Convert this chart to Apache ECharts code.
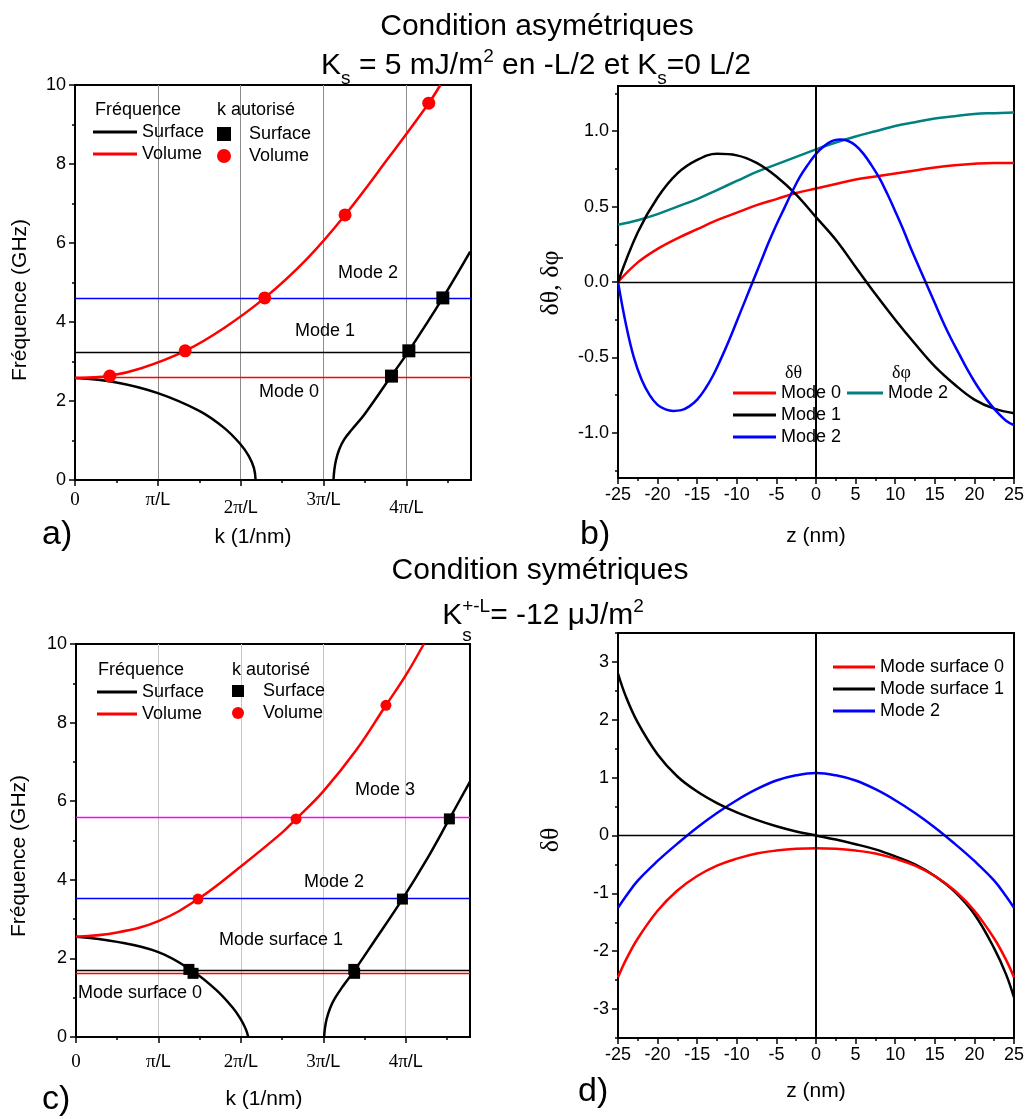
<!DOCTYPE html>
<html><head><meta charset="utf-8">
<script src="https://cdn.jsdelivr.net/npm/echarts@6/dist/echarts.min.js"></script>
<style>html,body{margin:0;padding:0;background:#fff}#c{width:1027px;height:1119px}</style>
</head><body><div id="c"></div>
<script>
// ---------------- DATA ----------------
const kTickLabels = ['0', 'π/L', '2π/L', '3π/L', '4π/L'];
const kTickValues = [0, 1, 2, 3, 4];
const kMinorValues = [0.5, 1.5, 2.5, 3.5, 4.5];

// Panel a (asymmetric) - k in units of pi/L, f in GHz
const aVolK = [0, 0.42, 0.8, 1.33, 1.8, 2.29, 2.8, 3.26, 3.8, 4.27, 4.41];
const aVolF = [2.58, 2.64, 2.83, 3.27, 3.85, 4.61, 5.6, 6.71, 8.2, 9.54, 10.0];
const aSurfLK = [0, 0.5, 1.0, 1.5, 1.8, 2.0, 2.1, 2.16, 2.18];
const aSurfLF = [2.58, 2.47, 2.2, 1.75, 1.32, 0.9, 0.6, 0.3, 0];
const aSurfRK = [3.12, 3.13, 3.15, 3.19, 3.25, 3.34, 3.5, 3.82, 4.03, 4.44, 4.77];
const aSurfRF = [0, 0.25, 0.5, 0.78, 1.03, 1.27, 1.68, 2.64, 3.27, 4.61, 5.78];
const aPtVolK = [0.42, 1.33, 2.29, 3.26, 4.27];
const aPtVolF = [2.63, 3.27, 4.61, 6.71, 9.54];
const aPtSurfK = [3.82, 4.03, 4.44];
const aPtSurfF = [2.63, 3.27, 4.61];
const aModeF = [2.61, 3.23, 4.59];
const aModeColors = ['#ff0000', '#000000', '#0000ff'];
const aModeNames = ['Mode 0', 'Mode 1', 'Mode 2'];

// Panel b (asymmetric profiles)
const bZ = [-25, -22.5, -20, -17.5, -15, -12.5, -10, -7.5, -5, -2.5, 0, 2.5, 5, 7.5, 10, 12.5, 15, 17.5, 20, 22.5, 25];
const bTheta0 = [0, 0.13, 0.22, 0.29, 0.35, 0.41, 0.46, 0.51, 0.55, 0.59, 0.62, 0.65, 0.68, 0.70, 0.72, 0.74, 0.76, 0.775, 0.785, 0.79, 0.79];
const bTheta1 = [0, 0.33, 0.56, 0.72, 0.81, 0.85, 0.84, 0.79, 0.70, 0.58, 0.43, 0.28, 0.10, -0.08, -0.25, -0.41, -0.56, -0.68, -0.78, -0.84, -0.87];
const bPhi2 = [0.38, 0.41, 0.45, 0.50, 0.55, 0.61, 0.67, 0.73, 0.78, 0.83, 0.88, 0.925, 0.965, 1.00, 1.035, 1.06, 1.085, 1.10, 1.115, 1.12, 1.125];
const bZ2 = [-25, -24, -23, -22, -21, -20, -19, -18, -17, -16, -15, -14, -13, -12, -11, -10, -9, -8, -7, -6, -5, -4, -3, -2, -1, 0, 1, 2, 3, 4, 5, 6, 7, 8, 9, 10, 11, 12, 13, 14, 15, 16, 17, 18, 19, 20, 21, 22, 23, 24, 25];
const bTheta2 = [0, -0.28, -0.5, -0.65, -0.75, -0.815, -0.845, -0.855, -0.85, -0.825, -0.78, -0.71, -0.62, -0.51, -0.39, -0.26, -0.13, 0.0, 0.13, 0.26, 0.38, 0.49, 0.6, 0.7, 0.78, 0.85, 0.9, 0.935, 0.945, 0.937, 0.905, 0.85, 0.775, 0.69, 0.585, 0.47, 0.35, 0.22, 0.1, -0.02, -0.14, -0.26, -0.37, -0.47, -0.57, -0.66, -0.74, -0.81, -0.87, -0.92, -0.95];
const bYLabels = [-1, -0.5, 0, 0.5, 1];
const bYMinor = [-1.25, -0.75, -0.25, 0.25, 0.75, 1.25];

// Panel c (symmetric)
const cVolK = [0, 0.5, 1, 1.48, 2, 2.5, 2.67, 3, 3.4, 3.76, 4.0, 4.22];
const cVolF = [2.55, 2.66, 2.95, 3.51, 4.34, 5.2, 5.55, 6.25, 7.3, 8.44, 9.2, 10.0];
const cSurfLK = [0, 0.5, 1.0, 1.4, 1.7, 1.9, 2.0, 2.06, 2.09];
const cSurfLF = [2.55, 2.42, 2.16, 1.7, 1.2, 0.75, 0.45, 0.2, 0];
const cSurfRK = [3.01, 3.02, 3.04, 3.08, 3.14, 3.24, 3.37, 3.6, 3.96, 4.25, 4.53, 4.78];
const cSurfRF = [0, 0.22, 0.45, 0.72, 0.98, 1.3, 1.67, 2.38, 3.51, 4.5, 5.55, 6.5];
const cPtVolK = [1.48, 2.67, 3.76];
const cPtVolF = [3.51, 5.55, 8.44];
const cPtSurfK = [1.37, 1.42, 3.37, 3.38, 3.96, 4.53];
const cPtSurfF = [1.72, 1.62, 1.72, 1.62, 3.51, 5.55];
const cModeF = [1.62, 1.71, 3.52, 5.58];
const cModeColors = ['#ff0000', '#000000', '#0000ff', '#ff00ff'];

// Panel d (symmetric profiles)
const dZ = [-25, -24, -22.5, -20, -17.5, -15, -12.5, -10, -7.5, -5, -2.5, 0, 2.5, 5, 7.5, 10, 12.5, 15, 17.5, 20, 22.5, 24, 25];
const dSurf0 = [-2.45, -2.15, -1.78, -1.3, -0.95, -0.7, -0.52, -0.4, -0.31, -0.26, -0.23, -0.22, -0.23, -0.26, -0.31, -0.4, -0.52, -0.7, -0.95, -1.3, -1.78, -2.15, -2.45];
const dSurf1 = [2.8, 2.4, 1.95, 1.4, 1.02, 0.76, 0.56, 0.4, 0.27, 0.16, 0.07, 0, -0.07, -0.15, -0.24, -0.36, -0.5, -0.7, -0.97, -1.36, -1.95, -2.4, -2.8];
const dMode2 = [-1.25, -1.05, -0.78, -0.44, -0.14, 0.14, 0.39, 0.61, 0.8, 0.95, 1.04, 1.08, 1.04, 0.95, 0.8, 0.61, 0.39, 0.14, -0.14, -0.44, -0.78, -1.05, -1.25];
const dYLabels = [-3, -2, -1, 0, 1, 2, 3];
const dYMinor = [-3.5, -2.5, -1.5, -0.5, 0.5, 1.5, 2.5, 3.5];

// ---------------- STYLE HELPERS ----------------
const SANS = 'Liberation Sans';
const SERIF = 'Liberation Serif';
const BLACK = '#000000';

const chart = echarts.init(document.getElementById('c'), null, {renderer: 'canvas', width: 1027, height: 1119});

function pairs(xs, ys) { return xs.map((x, i) => [x, ys[i]]); }

function curve(name, xi, yi, xs, ys, color, width) {
  return {type: 'line', name, xAxisIndex: xi, yAxisIndex: yi, data: pairs(xs, ys),
    showSymbol: false, symbol: 'none', smooth: 0.4,
    color, itemStyle: {color}, lineStyle: {color, width: width || 2.5},
    silent: true, z: 3, animation: false};
}
function pts(name, xi, yi, xs, ys, color, symbol, size) {
  return {type: 'scatter', name, xAxisIndex: xi, yAxisIndex: yi, data: pairs(xs, ys),
    symbol, symbolSize: size, color, itemStyle: {color, opacity: 1}, z: 5, silent: true, animation: false};
}
function hLines(xi, yi, vals, colors, extra) {
  const data = vals.map((v, i) => ({yAxis: v, lineStyle: {color: colors[i], width: 1.4, type: 'solid'}}));
  if (extra) extra.forEach(e => data.push(e));
  return {type: 'line', name: 'lines' + xi, xAxisIndex: xi, yAxisIndex: yi, data: [], silent: true, z: 2,
    markLine: {symbol: ['none', 'none'], silent: true, animation: false, label: {show: false}, data}};
}

const lineAx = {show: true, onZero: false, lineStyle: {color: BLACK, width: 2}};
const tickSt = {color: BLACK, width: 1.5};

function kFormatter(stagger) {
  return function (v) {
    const i = kTickValues.indexOf(Math.round(v));
    if (i < 0 || Math.abs(v - Math.round(v)) > 1e-6) return '';
    const t = kTickLabels[i];
    const low = stagger && (i === 2 || i === 4);
    const sp = t.indexOf('/');
    const head = sp < 0 ? t : t.slice(0, sp);
    const tail = sp < 0 ? '' : t.slice(sp);
    return '{' + (low ? 'sd' : 's') + '|' + head + '}' + (tail ? '{' + (low ? 'ld' : 'l') + '|' + tail + '}' : '');
  };
}
const kRich = {
  s: {fontFamily: SERIF, fontSize: 19, color: BLACK},
  l: {fontFamily: SANS, fontSize: 18, color: BLACK},
  sd: {fontFamily: SERIF, fontSize: 19, color: BLACK, padding: [8, 0, 0, 0]},
  ld: {fontFamily: SANS, fontSize: 18, color: BLACK, padding: [8, 0, 0, 0]}
};
function kAxis(gi, grid, stagger, margin) {
  return {type: 'value', gridIndex: gi, min: 0, max: 4.78, interval: 1,
    axisLine: lineAx,
    axisTick: {show: true, inside: false, length: 6, lineStyle: tickSt, customValues: kTickValues},
    splitLine: {show: true, lineStyle: {color: grid, width: 1}},
    axisLabel: {margin, formatter: kFormatter(stagger), rich: kRich, customValues: kTickValues}};
}
function kMinorAxis(gi) {
  return {type: 'value', gridIndex: gi, min: 0, max: 4.78, position: 'bottom',
    axisLine: {show: false, onZero: false}, splitLine: {show: false}, axisLabel: {show: false},
    axisTick: {show: true, inside: false, length: 3, lineStyle: tickSt, customValues: kMinorValues}};
}
function zAxis(gi) {
  return {type: 'value', gridIndex: gi, min: -25, max: 25, interval: 5,
    axisLine: lineAx,
    axisTick: {show: true, inside: false, length: 6, lineStyle: tickSt},
    minorTick: {show: true, splitNumber: 2, length: 3, lineStyle: tickSt},
    splitLine: {show: false},
    axisLabel: {margin: 8, fontSize: 18, fontFamily: SANS, color: BLACK}};
}
function fAxis(gi) {
  return {type: 'value', gridIndex: gi, min: 0, max: 10, interval: 2,
    axisLine: lineAx,
    axisTick: {show: true, inside: false, length: 6, lineStyle: tickSt},
    minorTick: {show: true, splitNumber: 2, length: 3, lineStyle: tickSt},
    splitLine: {show: false},
    axisLabel: {margin: 9, fontSize: 18, fontFamily: SANS, color: BLACK}};
}
function customYAxis(gi, min, max, labels, fmt) {
  return {type: 'value', gridIndex: gi, min, max,
    axisLine: lineAx,
    axisTick: {show: true, inside: false, length: 6, lineStyle: tickSt, customValues: labels},
    splitLine: {show: false},
    axisLabel: {margin: 9, fontSize: 18, fontFamily: SANS, color: BLACK, customValues: labels, formatter: fmt}};
}
function minorYAxis(gi, min, max, vals) {
  return {type: 'value', gridIndex: gi, min, max, position: 'left',
    axisLine: {show: false, onZero: false}, splitLine: {show: false}, axisLabel: {show: false},
    axisTick: {show: true, inside: false, length: 3, lineStyle: tickSt, customValues: vals}};
}

function T(x, y, text, size, opt) {
  opt = opt || {};
  const st = Object.assign({text, x: 0, y: 0, fontSize: size, fontFamily: opt.ff || SANS, fill: BLACK,
    align: opt.align || 'center', textAlign: opt.align || 'center',
    verticalAlign: 'middle', textVerticalAlign: 'middle'}, opt.style || {});
  return {type: 'text', x, y, rotation: opt.rot || 0, z: 100, silent: true, style: st};
}

const legendBase = {orient: 'vertical', padding: 0, itemGap: 0, selectedMode: false,
  textStyle: {fontSize: 18, fontFamily: SANS, color: BLACK, lineHeight: 22},
  formatter: n => n.split('·')[1]};
const SQUARE = 'path://M0,0L10,0L10,10L0,10Z';

const titleRich = {
  n: {fontSize: 30, fontFamily: SANS, color: BLACK},
  sub: {fontSize: 19, fontFamily: SANS, color: BLACK, padding: [26, 0, 0, 0]},
  sup: {fontSize: 19, fontFamily: SANS, color: BLACK, padding: [0, 0, 18, 0]}
};

const option = {
  animation: false,
  backgroundColor: '#ffffff',
  grid: [
    {left: 75, top: 85, width: 396, height: 395, show: true, borderColor: BLACK, borderWidth: 2, backgroundColor: 'rgba(0,0,0,0)'},
    {left: 618, top: 86, width: 396, height: 392, show: true, borderColor: BLACK, borderWidth: 2, backgroundColor: 'rgba(0,0,0,0)'},
    {left: 76, top: 644, width: 394, height: 393, show: true, borderColor: BLACK, borderWidth: 2, backgroundColor: 'rgba(0,0,0,0)'},
    {left: 618, top: 633, width: 396, height: 405, show: true, borderColor: BLACK, borderWidth: 2, backgroundColor: 'rgba(0,0,0,0)'}
  ],
  xAxis: [
    kAxis(0, '#8c8c8c', true, 11),   // 0
    zAxis(1),                         // 1
    kAxis(2, '#c4c4c4', false, 16),  // 2
    zAxis(3),                         // 3
    kMinorAxis(0),                    // 4
    kMinorAxis(2)                     // 5
  ],
  yAxis: [
    fAxis(0),                                                   // 0
    customYAxis(1, -1.3, 1.3, bYLabels, v => v.toFixed(1)),     // 1
    minorYAxis(1, -1.3, 1.3, bYMinor),                          // 2
    fAxis(2),                                                   // 3
    customYAxis(3, -3.5, 3.5, dYLabels, v => String(v)),        // 4
    minorYAxis(3, -3.5, 3.5, dYMinor)                           // 5
  ],
  legend: [
    Object.assign({}, legendBase, {left: 93, top: 121, itemWidth: 44, itemHeight: 3, icon: 'rect',
      data: ['a·Surface·f', 'a·Volume·f']}),
    Object.assign({}, legendBase, {left: 217, top: 123, itemWidth: 40, itemHeight: 14,
      data: [{name: 'a·Surface·k', icon: SQUARE}, {name: 'a·Volume·k', icon: 'circle'}]}),
    Object.assign({}, legendBase, {left: 733, top: 382, itemWidth: 43, itemHeight: 3, icon: 'rect',
      data: ['b·Mode 0·t', 'b·Mode 1·t', 'b·Mode 2·t']}),
    Object.assign({}, legendBase, {left: 847, top: 382, itemWidth: 36, itemHeight: 3, icon: 'rect',
      data: ['b·Mode 2·p']}),
    Object.assign({}, legendBase, {left: 97, top: 681, itemWidth: 40, itemHeight: 3, icon: 'rect',
      data: ['c·Surface·f', 'c·Volume·f']}),
    Object.assign({}, legendBase, {left: 232, top: 680, itemWidth: 40, itemHeight: 12,
      data: [{name: 'c·Surface·k', icon: SQUARE}, {name: 'c·Volume·k', icon: 'circle'}]}),
    Object.assign({}, legendBase, {left: 833, top: 656, itemWidth: 42, itemHeight: 3, icon: 'rect',
      data: ['d·Mode surface 0·', 'd·Mode surface 1·', 'd·Mode 2·']})
  ],
  series: [
    // Panel a
    hLines(0, 0, aModeF, aModeColors),
    curve('a·Surface·f', 0, 0, aSurfLK, aSurfLF, BLACK),
    curve('a·Surface·f', 0, 0, aSurfRK, aSurfRF, BLACK),
    curve('a·Volume·f', 0, 0, aVolK, aVolF, '#ff0000'),
    pts('a·Volume·k', 0, 0, aPtVolK, aPtVolF, '#ff0000', 'circle', 13),
    pts('a·Surface·k', 0, 0, aPtSurfK, aPtSurfF, BLACK, 'rect', 13),
    // Panel b
    hLines(1, 1, [0], [BLACK], [{xAxis: 0, lineStyle: {color: BLACK, width: 2, type: 'solid'}}]),
    curve('b·Mode 2·p', 1, 1, bZ, bPhi2, '#008080'),
    curve('b·Mode 0·t', 1, 1, bZ, bTheta0, '#ff0000'),
    curve('b·Mode 1·t', 1, 1, bZ, bTheta1, BLACK),
    curve('b·Mode 2·t', 1, 1, bZ2, bTheta2, '#0000ff'),
    // Panel c
    hLines(2, 3, cModeF, cModeColors),
    curve('c·Surface·f', 2, 3, cSurfLK, cSurfLF, BLACK),
    curve('c·Surface·f', 2, 3, cSurfRK, cSurfRF, BLACK),
    curve('c·Volume·f', 2, 3, cVolK, cVolF, '#ff0000'),
    pts('c·Volume·k', 2, 3, cPtVolK, cPtVolF, '#ff0000', 'circle', 11),
    pts('c·Surface·k', 2, 3, cPtSurfK, cPtSurfF, BLACK, 'rect', 11),
    // Panel d
    hLines(3, 4, [0], [BLACK], [{xAxis: 0, lineStyle: {color: BLACK, width: 2, type: 'solid'}}]),
    curve('d·Mode 2·', 3, 4, dZ, dMode2, '#0000ff'),
    curve('d·Mode surface 1·', 3, 4, dZ, dSurf1, BLACK),
    curve('d·Mode surface 0·', 3, 4, dZ, dSurf0, '#ff0000')
  ],
  graphic: [
    T(537, 27, 'Condition asymétriques', 30),
    T(536, 66, '{n|K}{sub|s}{n| = 5 mJ/m}{sup|2}{n| en -L/2 et K}{sub|s}{n|=0 L/2}', 30, {style: {rich: titleRich}}),
    T(540, 571, 'Condition symétriques', 30),
    T(543, 616, '{n|K}{sup|+-L}{n|= -12 μJ/m}{sup|2}', 30, {style: {rich: titleRich}}),
    T(467, 636, 's', 19),
    // panel a
    T(95, 110, 'Fréquence', 18, {align: 'left'}),
    T(217, 110, 'k autorisé', 18, {align: 'left'}),
    T(368, 273, aModeNames[2], 18),
    T(325, 331, aModeNames[1], 18),
    T(289, 392, aModeNames[0], 18),
    T(20, 300, 'Fréquence (GHz)', 21, {rot: Math.PI / 2}),
    T(253, 537, 'k (1/nm)', 21),
    T(42, 535, 'a)', 34, {align: 'left'}),
    // panel b
    T(785, 373, 'δθ', 18, {align: 'left', ff: SERIF}),
    T(892, 373, 'δφ', 18, {align: 'left', ff: SERIF}),
    T(551, 283, 'δθ, δφ', 26, {rot: Math.PI / 2, ff: SERIF}),
    T(816, 536, 'z (nm)', 21),
    T(580, 535, 'b)', 34, {align: 'left'}),
    // panel c
    T(98, 670, 'Fréquence', 18, {align: 'left'}),
    T(232, 670, 'k autorisé', 18, {align: 'left'}),
    T(385, 790, 'Mode 3', 18),
    T(334, 882, 'Mode 2', 18),
    T(281, 940, 'Mode surface 1', 18),
    T(140, 993, 'Mode surface 0', 18),
    T(19, 856, 'Fréquence (GHz)', 21, {rot: Math.PI / 2}),
    T(264, 1099, 'k (1/nm)', 21),
    T(42, 1100, 'c)', 34, {align: 'left'}),
    // panel d
    T(551, 840, 'δθ', 26, {rot: Math.PI / 2, ff: SERIF}),
    T(816, 1091, 'z (nm)', 21),
    T(578, 1092, 'd)', 34, {align: 'left'})
  ]
};
chart.setOption(option);
</script>
</body></html>
